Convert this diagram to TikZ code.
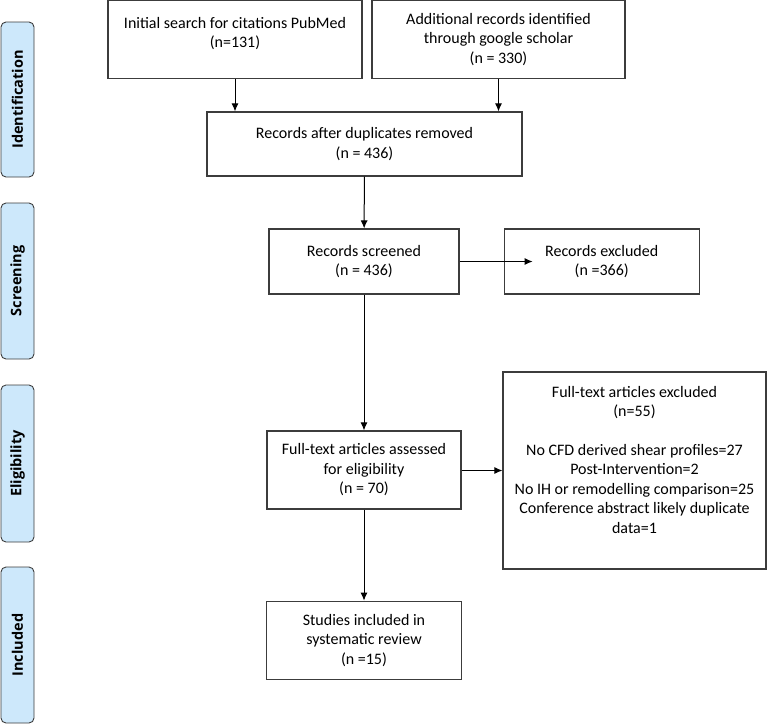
\documentclass[tikz,border=0pt]{standalone}
\usepackage{fontspec}
\setmainfont{Carlito}
\newfontfamily\sidefont{Open Sans}
\usetikzlibrary{positioning,arrows.meta}

\definecolor{stagefill}{HTML}{CDE8FB}
\definecolor{boxline}{HTML}{3C3C3C}

\begin{document}
\begin{tikzpicture}[x=1pt, y=-1pt]
    \tikzstyle{every node}=[font=\fontsize{16}{19.5}\selectfont, align=center]
    \tikzset{
        n/.style={draw=boxline, line width=1.2pt, inner sep=0pt, minimum height=78pt},
        n2/.style={n, minimum height=65pt},
        stage/.style={draw=boxline, line width=0.9pt, fill=stagefill, rounded corners=5pt, rotate=90, minimum height=33pt, font=\sidefont\bfseries\fontsize{14.5}{16}\selectfont},
        arr/.style={line width=1pt, -{Latex[length=8pt, width=7pt]}}
        }
    \useasboundingbox (0,0) rectangle (767,724);

    %stages
    \node (sident) [stage, minimum width=155pt] at (17.5,99.5) {Identification};
    \node (sscreen) [stage, minimum width=156pt] at (17.5,281) {Screening};
    \node (selig) [stage, minimum width=157pt] at (17.5,463.5) {Eligibility};
    \node (sincl) [stage, minimum width=156pt] at (17.5,645) {Included};

    %identification
    \node (pubmed) [n, minimum width=254pt, text depth=14pt] at (235,39.5) {Initial search for citations PubMed\\(n=131)};
    \node (scholar) [n, minimum width=253pt] at (498.5,39.5) {Additional records identified\\through google scholar\\(n = 330)};
    \node (dupl) [n, minimum width=315pt, minimum height=64pt] at (364.5,144) {Records after duplicates removed\\(n = 436)};

    %screening
    \node (screened) [n2, minimum width=190pt] at (364,261.5) {Records screened\\(n = 436)};
    \node (excluded) [n2, minimum width=195pt, right=44pt of screened] {Records excluded\\(n =366)};

    %eligibility
    \node (fulltext) [n, minimum width=194pt] at (364,470) {Full-text articles assessed\\for eligibility\\(n = 70)};
    \node (ftexcl) [n, minimum width=263pt, minimum height=197pt, text depth=22pt] at (634.5,470.5) {Full-text articles excluded\\(n=55)\\[19pt]No CFD derived shear profiles=27\\Post-Intervention=2\\No IH or remodelling comparison=25\\Conference abstract likely duplicate\\data=1};

    %included
    \node (included) [n, minimum width=195pt, below=91pt of fulltext] {Studies included in\\systematic review\\(n =15)};

    \draw[arr] (pubmed) -- (pubmed |- dupl.north);
    \draw[arr] (scholar) -- (scholar |- dupl.north);
    \draw[arr] (dupl) -- (screened);
    \draw[arr] (screened.east) -- ([xshift=29pt]excluded.west);
    \draw[arr] (screened) -- (fulltext);
    \draw[arr] (fulltext.east |- ftexcl.west) -- (ftexcl.west);
    \draw[arr] (fulltext) -- (included);
\end{tikzpicture}
\end{document}
